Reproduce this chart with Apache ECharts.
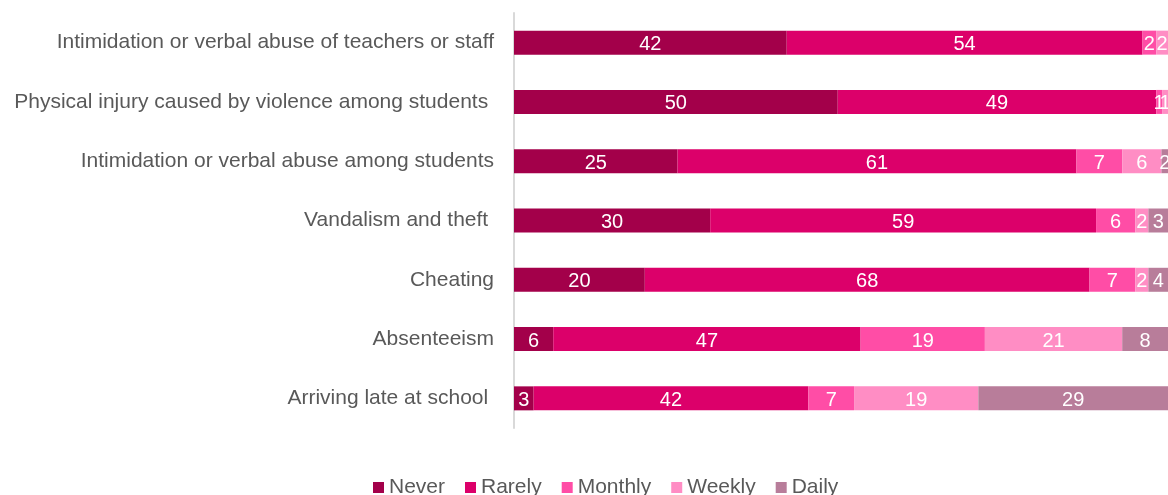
<!DOCTYPE html>
<html>
<head>
<meta charset="utf-8">
<script src="https://cdn.jsdelivr.net/npm/echarts@6/dist/echarts.min.js"></script>
<style>
html,body{margin:0;padding:0;background:#fff;}
#chart{width:1168px;height:495px;}
</style>
</head>
<body>
<div id="chart"></div>
<script>
const categories = [
  "Intimidation or verbal abuse of teachers or staff",
  "Physical injury caused by violence among students ",
  "Intimidation or verbal abuse among students",
  "Vandalism and theft ",
  "Cheating",
  "Absenteeism",
  "Arriving late at school "
];
const seriesNames = ["Never", "Rarely", "Monthly", "Weekly", "Daily"];
const never   = [41.7, 49.5, 25, 30, 20, 6, 3];
const rarely  = [54.4, 48.7, 61, 59, 68, 47, 42];
const monthly = [2.1, 0.9, 7, 6, 7, 19, 7];
const weekly  = [1.8, 0.9, 6, 2, 2, 21, 19];
const daily   = [0, 0, 2, 3, 4, 8, 29];
const colors = ["#A3004A", "#DC006A", "#FF4DA6", "#FF8DC4", "#B87D9A"];

const values = [never, rarely, monthly, weekly, daily];
const chart = echarts.init(document.getElementById('chart'));
chart.setOption({
  animation: false,
  grid: { left: 514, right: 0, top: 13, bottom: 67, containLabel: false },
  xAxis: {
    type: 'value', min: 0, max: 100,
    show: false
  },
  yAxis: {
    type: 'category', data: categories, inverse: true,
    axisLine: { show: true, lineStyle: { color: '#D9D9D9', width: 2 } },
    axisTick: { show: false },
    axisLabel: { color: '#595959', fontSize: 21, fontFamily: 'Liberation Sans, Arial, sans-serif', margin: 20, verticalAlign: 'middle', lineHeight: 26, padding: [4, 0, 0, 0] }
  },
  legend: {
    top: 472, left: 368,
    icon: 'rect', itemWidth: 11, itemHeight: 11, itemGap: 20,
    textStyle: { color: '#595959', fontSize: 21, fontFamily: 'Liberation Sans, Arial, sans-serif', padding: [0, 0, 0, 0] },
    data: seriesNames
  },
  series: seriesNames.map((name, i) => ({
    name: name,
    type: 'bar',
    stack: 'total',
    barWidth: 24,
    itemStyle: { color: colors[i] },
    label: {
      show: true, position: 'inside', color: '#fff',
      fontSize: 20, fontFamily: 'Liberation Sans, Arial, sans-serif',
      offset: [0, 2],
      formatter: p => p.value > 0 ? Math.round(p.value) : ''
    },
    data: values[i]
  }))
});
</script>
</body>
</html>
